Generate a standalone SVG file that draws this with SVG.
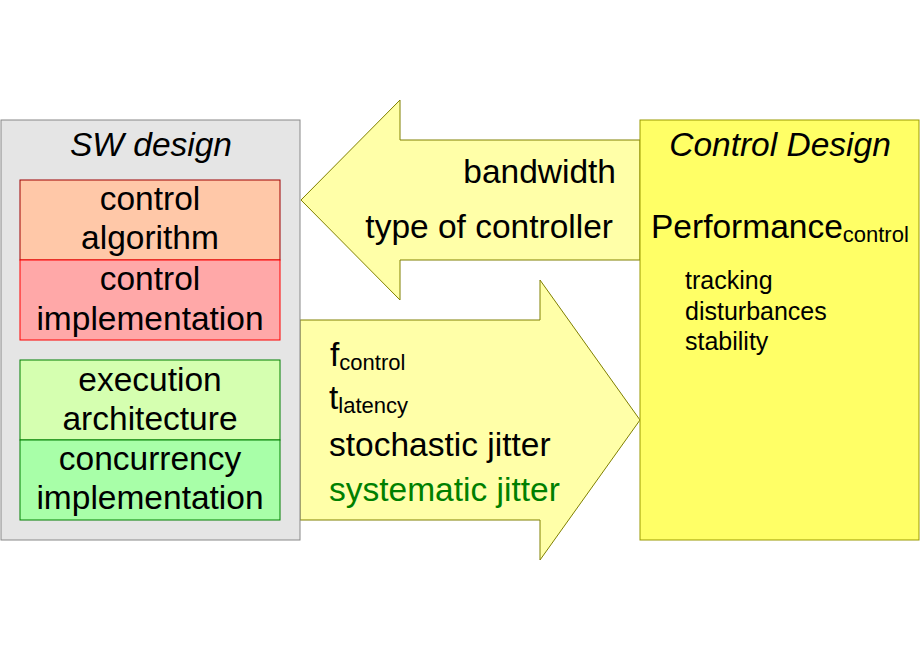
<svg xmlns="http://www.w3.org/2000/svg" width="920" height="660" viewBox="0 0 920 660">
<style>
text{font-family:"Liberation Sans",Arial,sans-serif;fill:#000}
.big{font-size:33.5px}
.c{text-anchor:middle}
.it{font-style:italic}
.sub{font-size:22px}
.sm{font-size:25px}
.arrow{fill:#ffffa8;stroke:#808000;stroke-width:1}
</style>
<rect width="920" height="660" fill="#fff"/>
<g id="connectors">
<g id="arrow-left">
<polygon class="arrow" points="640,140 400,140 400,100 301,200 400,300 400,260 640,260"/>
<text class="big" x="616" y="183" text-anchor="end">bandwidth</text>
<text class="big" x="613" y="238" text-anchor="end">type of controller</text>
</g>
<g id="arrow-right">
<polygon class="arrow" points="300,320 540,320 540,280 640,420 540,560 540,520 300,520"/>
<text class="big" x="330" y="366">f<tspan class="sub" dy="4">control</tspan></text>
<text class="big" x="329" y="409">t<tspan class="sub" dy="4">latency</tspan></text>
<text class="big" x="329" y="456">stochastic jitter</text>
<text class="big" x="329" y="501" style="fill:#008000">systematic jitter</text>
</g>
</g>
<g id="sw-design">
<rect x="1" y="120" width="299" height="420" fill="#e5e5e5" stroke="#888"/>
<text class="big c it" x="151" y="156">SW design</text>
</g>
<g id="control-algorithm">
<rect x="20" y="180" width="260" height="80" fill="#ffc8a8" stroke="#a00000"/>
<text class="big c" x="150" y="210">control</text>
<text class="big c" x="150" y="249">algorithm</text>
</g>
<g id="control-implementation">
<rect x="20" y="260" width="260" height="80" fill="#ffa8a8" stroke="#ff0000"/>
<text class="big c" x="150" y="290">control</text>
<text class="big c" x="150" y="330">implementation</text>
</g>
<g id="execution-architecture">
<rect x="20" y="360" width="260" height="80" fill="#d5ffb0" stroke="#008000"/>
<text class="big c" x="150" y="391">execution</text>
<text class="big c" x="150" y="430">architecture</text>
</g>
<g id="concurrency-implementation">
<rect x="20" y="440" width="260" height="80" fill="#a8ffa8" stroke="#008000"/>
<text class="big c" x="150" y="470">concurrency</text>
<text class="big c" x="150" y="509">implementation</text>
</g>
<g id="control-design">
<rect x="640" y="120" width="279" height="420" fill="#ffff66" stroke="#999900"/>
<text class="big c it" x="780" y="156">Control Design</text>
<text class="big" x="651" y="238">Performance<tspan class="sub" dy="4">control</tspan></text>
<text class="sm" x="685" y="289">tracking</text>
<text class="sm" x="685" y="320">disturbances</text>
<text class="sm" x="685" y="350">stability</text>
</g>
</svg>
